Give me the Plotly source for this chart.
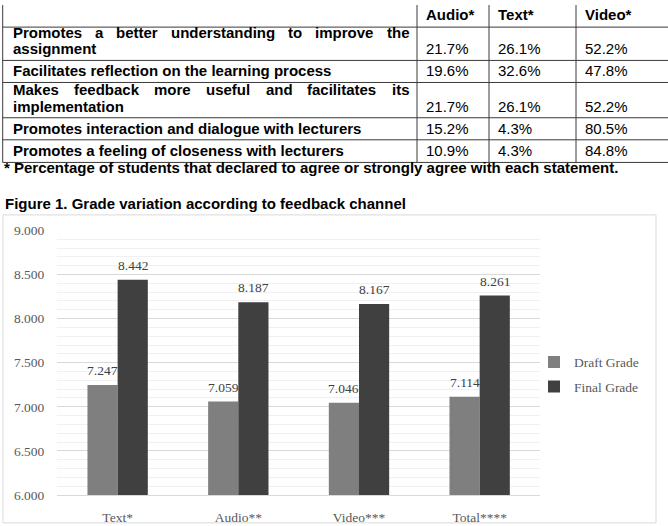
import plotly.graph_objects as go

W, H = 668, 526

# ---------------- data ----------------
columns = ["Audio*", "Text*", "Video*"]
statements = [
    "Promotes a better understanding to improve the assignment",
    "Facilitates reflection on the learning process",
    "Makes feedback more useful and facilitates its implementation",
    "Promotes interaction and dialogue with lecturers",
    "Promotes a feeling of closeness with lecturers",
]
audio_pct = [21.7, 19.6, 21.7, 15.2, 10.9]
text_pct = [26.1, 32.6, 26.1, 4.3, 4.3]
video_pct = [52.2, 47.8, 52.2, 80.5, 84.8]
footnote = "* Percentage of students that declared to agree or strongly agree with each statement."
caption = "Figure 1. Grade variation according to feedback channel"

categories = ["Text*", "Audio**", "Video***", "Total****"]
draft_grade = [7.247, 7.059, 7.046, 7.114]
final_grade = [8.442, 8.187, 8.167, 8.261]
series_names = ["Draft Grade", "Final Grade"]
series_colors = ["#7f7f7f", "#404040"]

# ---------------- helpers ----------------
def px(x):
    return x / W

def py(y):
    return 1 - y / H

# Arial/Liberation Sans Bold advance widths (1/1000 em)
BOLD_W = dict(zip("abcdefghijklmnopqrstuvwxyz",
                  [556, 611, 556, 611, 556, 333, 611, 611, 278, 278, 556, 278, 889,
                   611, 611, 611, 611, 389, 556, 333, 611, 556, 778, 556, 556, 500]))
BOLD_W.update({"P": 667, "M": 833, "F": 611, " ": 278})

TFONT = 15
SANS = "Liberation Sans, Arial, sans-serif"
SERIF = "Liberation Serif, Times New Roman, serif"


def wwidth(word):
    return sum(BOLD_W.get(c, 600) for c in word) / 1000 * TFONT


def wrap(text, avail):
    words = text.split()
    lines, cur = [], []
    for w in words:
        trial = cur + [w]
        width = sum(wwidth(x) for x in trial) + wwidth(" ") * (len(trial) - 1)
        if width > avail and cur:
            lines.append(cur)
            cur = [w]
        else:
            cur = trial
    lines.append(cur)
    return lines


annotations = []
shapes = []

# ---------------- table ----------------
col_lines = [2.7, 417, 489, 576]
row_lines = [20.7, 55, 77.7, 114, 136.7, 160]
table_top = -2
text_left = 11
text_right = 407.3
line_h = 17
dy = -3.5   # optical correction of annotation vertical centre


def ann(text, x, y, bold=True, xanchor="left"):
    f = dict(family=SANS, size=TFONT, color="#000")
    if bold:
        f["weight"] = "bold"
    return dict(text=text, xref="paper", yref="paper", x=px(x), y=py(y + dy),
                xanchor=xanchor, yanchor="middle", showarrow=False, font=f)


for x in col_lines:
    shapes.append(dict(type="line", xref="paper", yref="paper",
                       x0=px(x), x1=px(x), y0=py(table_top), y1=py(row_lines[-1]),
                       line=dict(color="#3a3a3a", width=1)))
for y in row_lines:
    shapes.append(dict(type="line", xref="paper", yref="paper",
                       x0=px(col_lines[0]), x1=px(W + 5), y0=py(y), y1=py(y),
                       line=dict(color="#3a3a3a", width=1)))

# header
for j, name in enumerate(columns):
    annotations.append(ann(name, col_lines[j + 1] + 7, 11))

value_cols = [audio_pct, text_pct, video_pct]
for i, stmt in enumerate(statements):
    bottom = row_lines[i + 1]
    last_y = bottom - 8.5
    lines = wrap(stmt, text_right - text_left)
    n = len(lines)
    for k, words in enumerate(lines):
        yy = last_y - (n - 1 - k) * line_h
        if k < n - 1 and len(words) > 1:
            widths = [wwidth(w) for w in words]
            gap = (text_right - text_left - sum(widths)) / (len(words) - 1)
            xx = text_left
            for w, ww in zip(words, widths):
                annotations.append(ann(w, xx, yy))
                xx += ww + gap
        else:
            annotations.append(ann(" ".join(words), text_left, yy))
    for j, vals in enumerate(value_cols):
        annotations.append(ann(f"{vals[i]:.1f}%", col_lines[j + 1] + 7, last_y, bold=False))

annotations.append(ann(footnote, 2, 168.8))
annotations.append(ann(caption, 3, 206))

# chart frame
shapes.append(dict(type="rect", xref="paper", yref="paper",
                   x0=px(3), x1=px(656), y0=py(214), y1=py(H + 5),
                   line=dict(color="#d9d9d9", width=1), fillcolor="rgba(0,0,0,0)",
                   layer="below"))

# ---------------- chart ----------------
fig = go.Figure()
for name, vals, col in zip(series_names, [draft_grade, final_grade], series_colors):
    fig.add_bar(x=categories, y=vals, name=name, marker=dict(color=col, line=dict(width=0)),
                legendgroup=name)

for vals, shift in [(draft_grade, -15.1), (final_grade, 15.1)]:
    for c, v in zip(categories, vals):
        annotations.append(dict(text=f"{v:.3f}", xref="x", yref="y", x=c, y=v,
                                xshift=shift, yshift=5, xanchor="center", yanchor="bottom",
                                showarrow=False,
                                font=dict(family=SERIF, size=13.5, color="#404040")))

fig.update_layout(
    width=W, height=H,
    margin=dict(l=0, r=0, t=0, b=0),
    paper_bgcolor="white", plot_bgcolor="white",
    barmode="group", bargap=0.5, bargroupgap=0,
    showlegend=True,
    legend=dict(x=px(534), y=py(378.5), xanchor="left", yanchor="middle",
                font=dict(family=SERIF, size=13.5, color="#595959"),
                traceorder="grouped", tracegroupgap=4, bgcolor="rgba(0,0,0,0)"),
    xaxis=dict(domain=[px(57.3), px(540)], showgrid=False, showline=True,
               linecolor="#d9d9d9", linewidth=1, ticks="", ticklabelstandoff=10,
               tickfont=dict(family=SERIF, size=13.5, color="#595959"), fixedrange=True),
    yaxis=dict(domain=[py(502.3), py(230)], range=[6, 9], dtick=0.5, tick0=6,
               tickformat=".3f", showgrid=True, gridcolor="#d9d9d9", gridwidth=1,
               zeroline=False, showline=False, ticks="", ticklabelstandoff=12,
               minor=dict(dtick=0.1, showgrid=True, gridcolor="#f0f0f0", gridwidth=1),
               tickfont=dict(family=SERIF, size=13.5, color="#595959"), fixedrange=True),
    annotations=annotations,
    shapes=shapes,
)

fig.write_html("out.html")
